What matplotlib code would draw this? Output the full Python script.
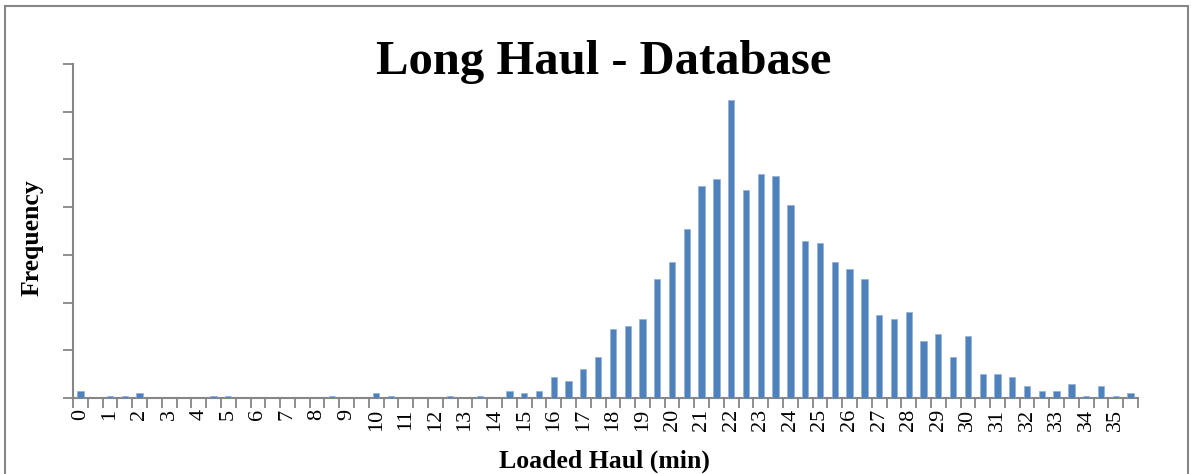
import matplotlib
matplotlib.use("Agg")
import matplotlib.pyplot as plt
from matplotlib.patches import Rectangle
import numpy as np

# Loaded haul times binned in half-minute steps (0 .. 35.5 min)
bin_starts = [i * 0.5 for i in range(72)]
counts = [3, 0, 1, 1, 2, 0, 0, 0, 0, 1,
          1, 0, 0, 0, 0, 0, 0, 1, 0, 0,
          2, 1, 0, 0, 0, 1, 0, 1, 0, 3,
          2, 3, 9, 7, 12, 17, 29, 30, 33, 50,
          57, 71, 89, 92, 125, 87, 94, 93, 81, 66,
          65, 57, 54, 50, 35, 33, 36, 24, 27, 17,
          26, 10, 10, 9, 5, 3, 3, 6, 1, 5,
          1, 2]
tick_labels = [str(m) for m in range(36)]

title = "Long Haul - Database"
x_title = "Loaded Haul (min)"
y_title = "Frequency"

W, H = 1191, 474
fig = plt.figure(figsize=(W / 100, H / 100), dpi=100)
serif = "Liberation Serif"
axis_grey = "#868686"
bar_blue = "#4F81BD"

ax = fig.add_axes([73 / W, 1 - 398 / H, (1138 - 73) / W, (398 - 64) / H])
pos = np.arange(len(counts))
ax.bar(pos, counts, width=0.43, color=bar_blue, edgecolor="#93B1D6",
       linewidth=0.5, zorder=3)

ax.set_xlim(-0.5, len(counts) - 0.5)
ax.set_ylim(0, 140)

# category axis: tick marks between categories, labels every whole minute
ax.set_xticks(np.arange(-0.5, len(counts) + 0.5, 1.0))
ax.set_xticklabels([])
ax.set_xticks(pos[::2], minor=True)
ax.set_xticklabels(tick_labels, minor=True, rotation=90, fontsize=16,
                   family=serif)
ax.tick_params(axis="x", which="major", direction="out", length=7,
               width=1.3, color=axis_grey)
ax.tick_params(axis="x", which="minor", length=0, pad=8)

ax.set_yticks(np.arange(0, 141, 20))
ax.set_yticklabels([])
ax.tick_params(axis="y", direction="out", length=7, width=1.3,
               color=axis_grey)

for side in ("top", "right"):
    ax.spines[side].set_visible(False)
for side in ("left", "bottom"):
    ax.spines[side].set_color(axis_grey)
    ax.spines[side].set_linewidth(1.5)

fig.text(604 / W, 1 - 74 / H, title, ha="center", va="baseline",
         fontsize=35, fontweight="bold", family=serif)
fig.text(604 / W, 1 - 468 / H, x_title, ha="center", va="baseline",
         fontsize=18.5, fontweight="bold", family=serif)
fig.text(39 / W, 1 - 238 / H, y_title, ha="center", va="baseline",
         rotation=90, rotation_mode="anchor",
         fontsize=18.5, fontweight="bold", family=serif)

# chart frame (its lower edge runs past the bottom of the image)
fig.patches.append(Rectangle((5 / W, -6 / H), (1188 - 5) / W,
                             (480 - 6) / H, transform=fig.transFigure,
                             fill=False, edgecolor=axis_grey, linewidth=1.5))

fig.savefig("out.png", dpi=100, facecolor="white")
